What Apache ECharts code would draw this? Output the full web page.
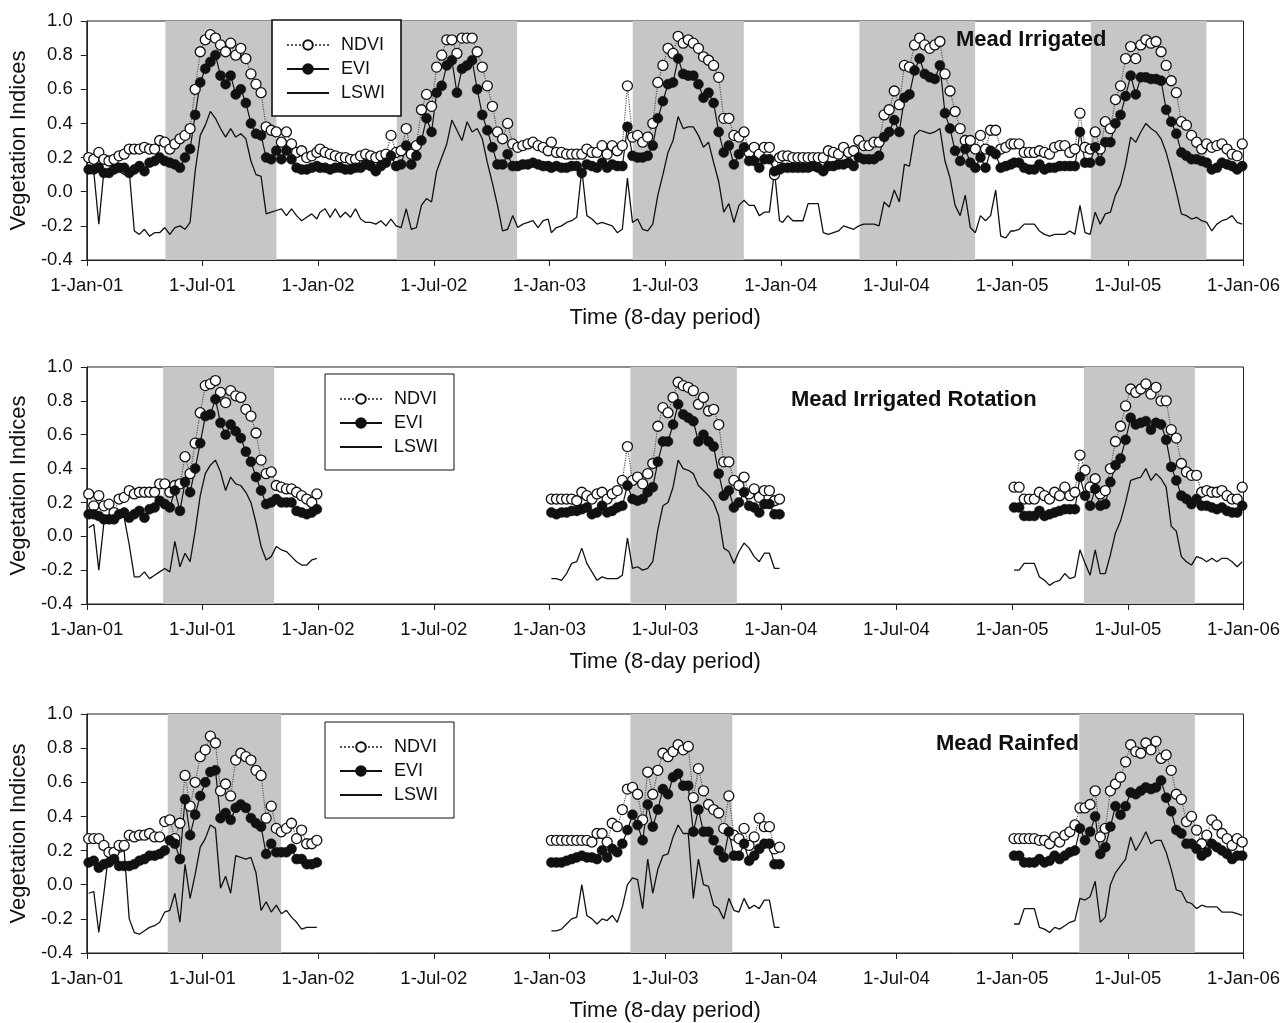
<!DOCTYPE html>
<html>
<head>
<meta charset="utf-8">
<title>Vegetation Indices - Mead</title>
<script src="https://cdn.jsdelivr.net/npm/echarts@6/dist/echarts.min.js"></script>
<style>
  html, body { margin: 0; padding: 0; background: #fff; }
  #chart { width: 1283px; height: 1023px; }
</style>
</head>
<body>
<div id="chart"></div>
<script>
// tick labels of the time axis (half years)
var tickLabels = ['1-Jan-01','1-Jul-01','1-Jan-02','1-Jul-02','1-Jan-03','1-Jul-03','1-Jan-04','1-Jul-04','1-Jan-05','1-Jul-05','1-Jan-06'];
var seriesNames = ['NDVI', 'EVI', 'LSWI'];
var panelTitles = ['Mead Irrigated', 'Mead Irrigated Rotation', 'Mead Rainfed'];

// growing season (shaded) periods, in decimal years
var bandsIrr = [[2001.34, 2001.82], [2002.34, 2002.86], [2003.36, 2003.84], [2004.34, 2004.84], [2005.34, 2005.84]];
var bandsRot = [[2001.33, 2001.81], [2003.35, 2003.81], [2005.31, 2005.79]];
var bandsRain = [[2001.35, 2001.84], [2003.35, 2003.79], [2005.29, 2005.79]];

// ---- Mead Irrigated (46 composites per year) ----
var irr01Ndvi = [0.20,0.19,0.23,0.19,0.18,0.19,0.21,0.22,0.25,0.25,0.25,0.26,0.25,0.25,0.30,0.29,0.25,0.28,0.31,0.33,0.37,0.60,0.82,0.89,0.92,0.90,0.86,0.82,0.87,0.80,0.84,0.78,0.69,0.63,0.58,0.38,0.36,0.35,0.29,0.35,0.28,0.23,0.24,0.20,0.21,0.23];
var irr01Evi  = [0.13,0.13,0.14,0.11,0.11,0.13,0.14,0.14,0.11,0.13,0.15,0.12,0.17,0.18,0.20,0.18,0.17,0.16,0.14,0.20,0.25,0.45,0.64,0.72,0.76,0.80,0.68,0.63,0.68,0.57,0.60,0.52,0.40,0.34,0.33,0.20,0.19,0.24,0.19,0.24,0.19,0.14,0.13,0.13,0.14,0.15];
var irr01Lswi = [0.13,0.12,-0.19,0.12,0.12,0.12,0.12,0.10,0.12,-0.23,-0.25,-0.22,-0.26,-0.24,-0.24,-0.21,-0.25,-0.21,-0.20,-0.22,-0.18,0.12,0.33,0.39,0.47,0.43,0.37,0.32,0.37,0.32,0.34,0.31,0.18,0.10,0.09,-0.13,-0.12,-0.11,-0.10,-0.14,-0.10,-0.14,-0.17,-0.15,-0.13,-0.16];
var irr02Ndvi = [0.25,0.23,0.22,0.21,0.20,0.20,0.19,0.19,0.21,0.22,0.21,0.20,0.21,0.22,0.33,0.23,0.24,0.37,0.22,0.27,0.48,0.57,0.50,0.73,0.80,0.89,0.89,0.81,0.90,0.90,0.90,0.82,0.73,0.62,0.50,0.35,0.31,0.40,0.28,0.26,0.27,0.28,0.29,0.27,0.26,0.24];
var irr02Evi  = [0.14,0.14,0.13,0.14,0.14,0.13,0.13,0.14,0.14,0.16,0.15,0.12,0.15,0.17,0.21,0.15,0.16,0.27,0.16,0.21,0.30,0.43,0.35,0.58,0.62,0.74,0.77,0.58,0.72,0.74,0.77,0.60,0.45,0.36,0.26,0.16,0.16,0.22,0.15,0.15,0.16,0.16,0.17,0.16,0.15,0.15];
var irr02Lswi = [-0.12,-0.10,-0.15,-0.10,-0.15,-0.12,-0.15,-0.10,-0.16,-0.18,-0.18,-0.19,-0.17,-0.20,-0.16,-0.20,-0.21,-0.10,-0.22,-0.21,-0.08,-0.04,-0.06,0.12,0.20,0.28,0.42,0.36,0.30,0.41,0.35,0.37,0.31,0.17,0.05,-0.08,-0.23,-0.22,-0.14,-0.21,-0.19,-0.18,-0.17,-0.21,-0.17,-0.16];
var irr03Ndvi = [0.29,0.23,0.23,0.22,0.22,0.22,0.22,0.25,0.23,0.23,0.27,0.22,0.27,0.24,0.27,0.62,0.32,0.33,0.29,0.32,0.40,0.64,0.74,0.84,0.81,0.91,0.87,0.89,0.87,0.84,0.79,0.77,0.74,0.67,0.43,0.43,0.33,0.32,0.35,0.23,0.26,0.22,0.26,0.26,0.10,0.20];
var irr03Evi  = [0.14,0.15,0.14,0.14,0.15,0.15,0.11,0.16,0.15,0.14,0.17,0.14,0.16,0.15,0.15,0.38,0.21,0.20,0.20,0.21,0.27,0.43,0.53,0.63,0.64,0.78,0.69,0.68,0.68,0.63,0.55,0.58,0.52,0.35,0.23,0.27,0.16,0.22,0.26,0.18,0.18,0.14,0.19,0.19,0.12,0.13];
var irr03Lswi = [-0.24,-0.21,-0.20,-0.18,-0.17,-0.15,0.13,-0.14,-0.16,-0.19,-0.18,-0.19,-0.20,-0.24,-0.22,0.08,-0.18,-0.16,-0.22,-0.23,-0.19,-0.02,0.10,0.23,0.30,0.44,0.37,0.38,0.38,0.33,0.26,0.29,0.17,0.06,-0.12,-0.07,-0.18,-0.08,-0.05,-0.08,-0.08,-0.14,-0.12,-0.12,0.12,-0.17];
var irr04Ndvi = [0.21,0.21,0.20,0.20,0.20,0.20,0.20,0.20,0.20,0.24,0.23,0.22,0.26,0.23,0.24,0.30,0.27,0.27,0.29,0.29,0.45,0.48,0.59,0.51,0.74,0.73,0.86,0.90,0.86,0.84,0.86,0.88,0.69,0.59,0.47,0.37,0.30,0.30,0.25,0.33,0.25,0.36,0.36,0.25,0.26,0.28];
var irr04Evi  = [0.14,0.14,0.14,0.14,0.14,0.14,0.15,0.14,0.12,0.15,0.15,0.16,0.16,0.17,0.15,0.20,0.19,0.19,0.19,0.21,0.32,0.35,0.42,0.35,0.55,0.57,0.71,0.78,0.69,0.67,0.66,0.74,0.46,0.37,0.24,0.18,0.25,0.17,0.14,0.20,0.14,0.24,0.22,0.14,0.15,0.16];
var irr04Lswi = [-0.18,-0.14,-0.17,-0.17,-0.17,-0.07,-0.07,-0.07,-0.24,-0.25,-0.24,-0.23,-0.20,-0.21,-0.22,-0.20,-0.19,-0.19,-0.19,-0.20,-0.06,-0.09,0.01,-0.06,0.16,0.15,0.33,0.36,0.35,0.34,0.35,0.37,0.18,0.08,-0.08,-0.14,-0.02,-0.21,-0.24,-0.14,-0.17,-0.14,0.01,-0.26,-0.27,-0.23];
var irr05Ndvi = [0.28,0.28,0.23,0.23,0.23,0.24,0.23,0.22,0.26,0.27,0.27,0.23,0.25,0.46,0.26,0.25,0.35,0.25,0.41,0.37,0.54,0.62,0.78,0.85,0.78,0.86,0.89,0.87,0.88,0.82,0.74,0.65,0.58,0.41,0.39,0.33,0.29,0.25,0.28,0.26,0.27,0.28,0.25,0.22,0.21,0.28];
var irr05Evi  = [0.17,0.17,0.14,0.13,0.13,0.16,0.13,0.14,0.14,0.15,0.15,0.15,0.15,0.35,0.17,0.17,0.26,0.18,0.29,0.29,0.40,0.45,0.56,0.68,0.57,0.67,0.67,0.66,0.66,0.65,0.48,0.41,0.34,0.23,0.21,0.19,0.19,0.18,0.17,0.13,0.14,0.17,0.16,0.15,0.13,0.15];
var irr05Lswi = [-0.23,-0.22,-0.19,-0.19,-0.19,-0.23,-0.25,-0.26,-0.25,-0.25,-0.25,-0.23,-0.25,-0.08,-0.24,-0.25,-0.12,-0.19,-0.13,-0.12,-0.02,0.04,0.16,0.32,0.29,0.35,0.40,0.37,0.35,0.31,0.23,0.12,0.00,-0.13,-0.14,-0.16,-0.15,-0.17,-0.18,-0.23,-0.19,-0.17,-0.16,-0.14,-0.18,-0.19];

// ---- Mead Irrigated Rotation (2002 and 2004 not shown) ----
var rot01Ndvi = [0.25,0.18,0.24,0.18,0.19,0.14,0.22,0.23,0.27,0.25,0.26,0.26,0.26,0.26,0.31,0.31,0.26,0.30,0.31,0.47,0.37,0.55,0.73,0.89,0.90,0.92,0.85,0.79,0.86,0.83,0.82,0.75,0.71,0.61,0.45,0.37,0.38,0.30,0.29,0.28,0.28,0.26,0.24,0.22,0.20,0.25];
var rot01Evi  = [0.13,0.13,0.12,0.10,0.10,0.10,0.13,0.14,0.11,0.13,0.15,0.11,0.16,0.17,0.21,0.19,0.17,0.27,0.15,0.32,0.26,0.40,0.55,0.71,0.72,0.81,0.67,0.60,0.66,0.62,0.58,0.50,0.44,0.35,0.27,0.19,0.20,0.22,0.20,0.20,0.20,0.15,0.14,0.13,0.14,0.16];
var rot01Lswi = [0.05,0.07,-0.20,0.08,0.12,0.12,0.12,0.11,-0.05,-0.24,-0.24,-0.21,-0.25,-0.23,-0.21,-0.19,-0.21,-0.03,-0.18,-0.10,-0.15,0.03,0.24,0.37,0.42,0.45,0.38,0.27,0.35,0.31,0.30,0.26,0.20,0.08,-0.06,-0.14,-0.12,-0.06,-0.08,-0.09,-0.12,-0.15,-0.17,-0.17,-0.14,-0.13];
var rot03Ndvi = [0.22,0.22,0.22,0.22,0.22,0.21,0.26,0.24,0.22,0.25,0.26,0.22,0.25,0.27,0.33,0.53,0.33,0.35,0.31,0.37,0.43,0.65,0.76,0.73,0.82,0.91,0.89,0.88,0.86,0.78,0.82,0.74,0.75,0.66,0.44,0.44,0.33,0.30,0.35,0.25,0.28,0.23,0.27,0.27,0.21,0.22];
var rot03Evi  = [0.14,0.13,0.14,0.14,0.15,0.15,0.16,0.17,0.13,0.14,0.18,0.14,0.15,0.17,0.18,0.30,0.22,0.21,0.22,0.26,0.29,0.44,0.56,0.56,0.66,0.78,0.72,0.70,0.68,0.56,0.60,0.56,0.53,0.37,0.24,0.27,0.17,0.20,0.26,0.18,0.17,0.14,0.19,0.19,0.13,0.13];
var rot03Lswi = [-0.25,-0.25,-0.26,-0.22,-0.16,-0.15,-0.07,-0.16,-0.21,-0.26,-0.24,-0.25,-0.25,-0.25,-0.23,-0.01,-0.19,-0.18,-0.20,-0.19,-0.15,0.04,0.18,0.20,0.29,0.45,0.40,0.39,0.37,0.30,0.27,0.24,0.20,0.12,-0.07,-0.09,-0.16,-0.09,-0.04,-0.07,-0.12,-0.15,-0.10,-0.10,-0.19,-0.19];
var rot05Ndvi = [0.29,0.29,0.22,0.22,0.22,0.26,0.24,0.22,0.26,0.24,0.29,0.24,0.26,0.48,0.39,0.29,0.34,0.25,0.27,0.40,0.56,0.65,0.77,0.87,0.85,0.87,0.90,0.84,0.88,0.80,0.80,0.63,0.58,0.43,0.38,0.36,0.36,0.26,0.27,0.26,0.26,0.27,0.24,0.22,0.22,0.29];
var rot05Evi  = [0.17,0.17,0.12,0.12,0.12,0.15,0.12,0.13,0.14,0.15,0.16,0.16,0.16,0.35,0.24,0.18,0.28,0.18,0.19,0.32,0.42,0.46,0.57,0.70,0.66,0.67,0.68,0.63,0.67,0.66,0.57,0.41,0.33,0.24,0.22,0.19,0.22,0.18,0.18,0.17,0.16,0.17,0.15,0.14,0.14,0.18];
var rot05Lswi = [-0.20,-0.20,-0.16,-0.16,-0.16,-0.24,-0.26,-0.29,-0.27,-0.26,-0.22,-0.25,-0.24,-0.08,-0.16,-0.23,-0.08,-0.22,-0.22,-0.11,0.02,0.09,0.20,0.33,0.34,0.35,0.40,0.33,0.37,0.34,0.29,0.06,0.03,-0.12,-0.15,-0.17,-0.12,-0.13,-0.15,-0.13,-0.15,-0.13,-0.13,-0.15,-0.18,-0.15];

// ---- Mead Rainfed (2002 and 2004 not shown) ----
var rain01Ndvi = [0.27,0.27,0.27,0.23,0.19,0.19,0.23,0.23,0.29,0.28,0.29,0.29,0.30,0.28,0.28,0.37,0.38,0.27,0.36,0.64,0.46,0.60,0.75,0.79,0.87,0.83,0.55,0.59,0.52,0.73,0.77,0.75,0.73,0.67,0.64,0.39,0.46,0.33,0.31,0.33,0.36,0.27,0.32,0.24,0.24,0.26];
var rain01Evi  = [0.13,0.14,0.10,0.12,0.13,0.15,0.11,0.11,0.11,0.12,0.14,0.15,0.17,0.17,0.18,0.20,0.26,0.24,0.15,0.50,0.29,0.41,0.52,0.60,0.66,0.67,0.39,0.42,0.38,0.45,0.47,0.45,0.39,0.36,0.34,0.18,0.24,0.19,0.19,0.19,0.21,0.15,0.15,0.12,0.12,0.13];
var rain01Lswi = [-0.05,-0.04,-0.28,-0.05,0.20,0.18,0.19,0.20,-0.20,-0.28,-0.29,-0.27,-0.25,-0.24,-0.22,-0.16,-0.15,-0.05,-0.22,0.12,-0.08,0.06,0.22,0.27,0.35,0.33,-0.02,0.05,-0.05,0.17,0.16,0.15,0.16,0.07,-0.15,-0.10,-0.16,-0.12,-0.17,-0.15,-0.19,-0.22,-0.26,-0.25,-0.25,-0.25];
var rain03Ndvi = [0.26,0.26,0.26,0.26,0.26,0.26,0.26,0.26,0.25,0.30,0.30,0.25,0.36,0.34,0.44,0.56,0.57,0.53,0.38,0.66,0.53,0.67,0.77,0.75,0.78,0.82,0.79,0.81,0.51,0.68,0.55,0.47,0.44,0.42,0.33,0.52,0.29,0.27,0.33,0.23,0.28,0.39,0.34,0.34,0.21,0.22];
var rain03Evi  = [0.13,0.13,0.13,0.14,0.15,0.16,0.17,0.16,0.16,0.15,0.20,0.16,0.21,0.19,0.24,0.32,0.41,0.35,0.26,0.47,0.34,0.44,0.56,0.53,0.63,0.65,0.58,0.58,0.31,0.44,0.31,0.31,0.26,0.20,0.16,0.31,0.17,0.17,0.24,0.14,0.17,0.21,0.24,0.24,0.12,0.12];
var rain03Lswi = [-0.27,-0.27,-0.26,-0.23,-0.20,-0.19,0.00,-0.18,-0.20,-0.23,-0.20,-0.21,-0.18,-0.22,-0.13,0.00,0.04,0.03,-0.14,0.15,-0.05,0.09,0.17,0.18,0.28,0.35,0.30,0.30,-0.08,0.15,0.00,-0.01,-0.12,-0.14,-0.20,-0.08,-0.15,-0.16,-0.08,-0.14,-0.12,-0.14,-0.09,-0.09,-0.25,-0.25];
var rain05Ndvi = [0.27,0.27,0.27,0.27,0.27,0.26,0.26,0.24,0.28,0.25,0.29,0.31,0.35,0.45,0.45,0.47,0.55,0.28,0.33,0.55,0.59,0.63,0.72,0.82,0.78,0.77,0.83,0.79,0.84,0.74,0.76,0.67,0.53,0.50,0.37,0.40,0.32,0.24,0.29,0.38,0.35,0.30,0.27,0.23,0.27,0.25];
var rain05Evi  = [0.17,0.17,0.13,0.13,0.13,0.15,0.13,0.14,0.17,0.15,0.17,0.19,0.20,0.33,0.26,0.31,0.40,0.18,0.22,0.34,0.46,0.41,0.46,0.54,0.53,0.55,0.57,0.56,0.57,0.61,0.51,0.43,0.32,0.30,0.24,0.24,0.21,0.17,0.19,0.24,0.22,0.20,0.18,0.15,0.17,0.17];
var rain05Lswi = [-0.23,-0.23,-0.14,-0.14,-0.14,-0.25,-0.26,-0.28,-0.25,-0.26,-0.24,-0.22,-0.21,-0.08,-0.09,-0.07,0.02,-0.22,-0.19,0.00,0.07,0.11,0.15,0.28,0.20,0.25,0.31,0.24,0.26,0.26,0.19,0.09,-0.03,-0.04,-0.10,-0.11,-0.14,-0.12,-0.13,-0.13,-0.13,-0.16,-0.16,-0.16,-0.17,-0.18];

var FONT = '"Liberation Sans", Arial, Helvetica, sans-serif';

// per panel: one array (or null) per year 2001..2005, for NDVI / EVI / LSWI
var panels = [
    {
        title: panelTitles[0], bands: bandsIrr,
        ndvi: [irr01Ndvi, irr02Ndvi, irr03Ndvi, irr04Ndvi, irr05Ndvi],
        evi:  [irr01Evi,  irr02Evi,  irr03Evi,  irr04Evi,  irr05Evi],
        lswi: [irr01Lswi, irr02Lswi, irr03Lswi, irr04Lswi, irr05Lswi],
        top: 21, height: 239, titleLeft: 956, titleTop: 29, legendLeft: 272, legendTop: 20, legendBorder: 1.6
    },
    {
        title: panelTitles[1], bands: bandsRot,
        ndvi: [rot01Ndvi, null, rot03Ndvi, null, rot05Ndvi],
        evi:  [rot01Evi,  null, rot03Evi,  null, rot05Evi],
        lswi: [rot01Lswi, null, rot03Lswi, null, rot05Lswi],
        top: 367, height: 237, titleLeft: 791, titleTop: 389, legendLeft: 325, legendTop: 374, legendBorder: 1
    },
    {
        title: panelTitles[2], bands: bandsRain,
        ndvi: [rain01Ndvi, null, rain03Ndvi, null, rain05Ndvi],
        evi:  [rain01Evi,  null, rain03Evi,  null, rain05Evi],
        lswi: [rain01Lswi, null, rain03Lswi, null, rain05Lswi],
        top: 714, height: 239, titleLeft: 936, titleTop: 733, legendLeft: 325, legendTop: 722, legendBorder: 1
    }
];

// turn yearly 8-day composites into [decimal year, value] pairs
function toPoints(yearArrays) {
    var out = [];
    for (var k = 0; k < yearArrays.length; k++) {
        var vals = yearArrays[k];
        var yr = 2001 + k;
        for (var j = 0; j < 46; j++) {
            out.push([yr + (8 * j + 3) / 365, vals ? vals[j] : null]);
        }
    }
    return out;
}

var grids = [], xAxes = [], yAxes = [], legends = [], titles = [], series = [];

panels.forEach(function (p, idx) {
    grids.push({
        left: 86, width: 1161, top: p.top, height: p.height,
        show: true, borderColor: '#222', borderWidth: 1, backgroundColor: 'transparent'
    });
    xAxes.push({
        type: 'value', gridIndex: idx, min: 2001, max: 2006, interval: 0.5,
        name: 'Time (8-day period)', nameLocation: 'middle', nameGap: 47,
        nameTextStyle: { fontSize: 22, color: '#111', fontFamily: FONT },
        axisLine: { onZero: false, lineStyle: { color: '#222', width: 1 } },
        axisTick: { inside: false, length: 6, lineStyle: { color: '#222' } },
        axisLabel: {
            margin: 16, fontSize: 18.5, color: '#111', fontFamily: FONT,
            showMinLabel: true, showMaxLabel: true,
            formatter: function (v) { return tickLabels[Math.round((v - 2001) * 2)] || ''; }
        },
        splitLine: { show: false }
    });
    yAxes.push({
        type: 'value', gridIndex: idx, min: -0.4, max: 1.0, interval: 0.2,
        name: 'Vegetation Indices', nameLocation: 'middle', nameGap: 47,
        nameTextStyle: { fontSize: 22, color: '#111', fontFamily: FONT },
        axisLine: { show: true, onZero: false, lineStyle: { color: '#222', width: 1 } },
        axisTick: { show: true, inside: false, length: 6, lineStyle: { color: '#222' } },
        axisLabel: {
            margin: 14, fontSize: 18.5, color: '#111', fontFamily: FONT,
            formatter: function (v) { return Math.abs(v) < 1e-9 ? '0.0' : v.toFixed(1); }
        },
        splitLine: { show: false }
    });
    titles.push({
        text: p.title, left: p.titleLeft, top: p.titleTop, padding: 0,
        textStyle: { fontSize: 22, fontWeight: 'bold', color: '#111', fontFamily: FONT }
    });
    legends.push({
        data: seriesNames, orient: 'vertical', left: p.legendLeft, top: p.legendTop,
        padding: [15, 16, 13, 14], itemGap: 4, itemWidth: 42, itemHeight: 12,
        backgroundColor: '#fff', borderColor: '#111', borderWidth: p.legendBorder,
        selectedMode: false,
        textStyle: { fontSize: 18, lineHeight: 20, color: '#111', fontFamily: FONT, padding: [0, 0, 0, 7] }
    });

    // shaded growing season
    series.push({
        type: 'line', name: 'season' + idx, xAxisIndex: idx, yAxisIndex: idx,
        data: [[2001, null]], symbol: 'none', silent: true,
        markArea: {
            silent: true,
            itemStyle: { color: '#c6c6c6' },
            data: p.bands.map(function (b) { return [{ xAxis: b[0] }, { xAxis: b[1] }]; })
        }
    });
    series.push({
        type: 'line', name: 'NDVI', xAxisIndex: idx, yAxisIndex: idx,
        data: toPoints(p.ndvi), showAllSymbol: true,
        symbol: 'circle', symbolSize: 10,
        itemStyle: { color: '#fff', borderColor: '#111', borderWidth: 1.3 },
        lineStyle: { color: '#555', width: 1.2, type: 'dotted' }
    });
    series.push({
        type: 'line', name: 'EVI', xAxisIndex: idx, yAxisIndex: idx,
        data: toPoints(p.evi), showAllSymbol: true,
        symbol: 'circle', symbolSize: 10,
        itemStyle: { color: '#111', borderColor: '#111', borderWidth: 0.5 },
        lineStyle: { color: '#111', width: 1.2 }
    });
    // plain line, transparent item style so the legend shows the line only
    series.push({
        type: 'line', name: 'LSWI', xAxisIndex: idx, yAxisIndex: idx,
        data: toPoints(p.lswi), symbol: 'none',
        itemStyle: { color: 'rgba(0,0,0,0)', borderWidth: 0 },
        lineStyle: { color: '#111', width: 1.3 }
    });
});

var myChart = echarts.init(document.getElementById('chart'));
myChart.setOption({
    backgroundColor: '#fff',
    animation: false,
    title: titles,
    legend: legends,
    grid: grids,
    xAxis: xAxes,
    yAxis: yAxes,
    series: series
});
</script>
</body>
</html>
